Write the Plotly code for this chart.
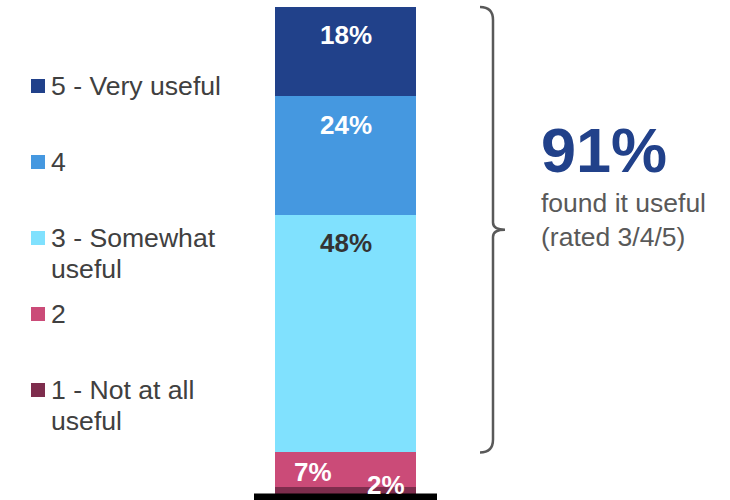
import plotly.graph_objects as go

# Survey result: share of respondents per usefulness rating
ratings = ["1 - Not at all useful", "2", "3 - Somewhat useful", "4", "5 - Very useful"]
legend_labels = ["1 - Not at all<br>useful", "2", "3 - Somewhat<br>useful", "4", "5 - Very useful"]
shares = [2, 7, 48, 24, 18]
colors = ["#7E2D4D", "#CB4B78", "#80E1FE", "#4598E0", "#21418A"]
label_colors = ["white", "white", "#333333", "white", "white"]
useful_total = "91%"
useful_note = "found it useful<br>(rated 3/4/5)"

W, H = 730, 500
FONT = "Liberation Sans, Arial, sans-serif"
category = "Rating"

fig = go.Figure()
for name, val, col in zip(ratings, shares, colors):
    fig.add_trace(go.Bar(
        x=[category], y=[val], name=name, marker=dict(color=col, line=dict(width=0)),
        showlegend=False, hoverinfo="skip",
    ))

total = sum(shares)
px_per_unit = 490 / total
y_lo = -3 / px_per_unit
y_hi = total + 7 / px_per_unit

annotations = []
shapes = []

# Value labels placed just below the top of each segment
label_offsets = [(40, 2), (-33, -20), (0, -28), (0, -29), (0, -28)]
cum = 0
for val, lc, (dx, dy) in zip(shares, label_colors, label_offsets):
    cum += val
    annotations.append(dict(
        x=category, y=cum, xref="x", yref="y", text=f"<b>{val}%</b>",
        showarrow=False, xshift=dx, yshift=dy,
        font=dict(family=FONT, size=26, color=lc),
    ))

# Baseline under the bar
shapes.append(dict(type="line", xref="paper", yref="y",
                   x0=254 / W, x1=437 / W, y0=0, y1=0,
                   line=dict(color="black", width=7)))

# Curly brace spanning ratings 3, 4 and 5
b_lo = shares[0] + shares[1]
b_hi = total
b_mid = (b_lo + b_hi) / 2
c = 13 / px_per_unit
xa, xb, xt = 480 / W, 493 / W, 505 / W
path = (f"M {xa},{b_hi} Q {xb},{b_hi} {xb},{b_hi - c} "
        f"L {xb},{b_mid + c * 0.55} Q {xb},{b_mid} {xt},{b_mid} "
        f"Q {xb},{b_mid} {xb},{b_mid - c * 0.55} "
        f"L {xb},{b_lo + c} Q {xb},{b_lo} {xa},{b_lo}")
shapes.append(dict(type="path", xref="paper", yref="y", path=path,
                   line=dict(color="#595959", width=2.5)))

annotations.append(dict(
    x=539 / W, y=1 - 150 / H, xref="paper", yref="paper", xanchor="left", yanchor="middle",
    text=f"<b>{useful_total}</b>", showarrow=False,
    font=dict(family=FONT, size=63, color="#21418A"),
))
annotations.append(dict(
    x=539 / W, y=1 - 186 / H, xref="paper", yref="paper", xanchor="left", yanchor="top",
    text=useful_note, showarrow=False, align="left",
    font=dict(family=FONT, size=26.5, color="#595959"),
))

# Hand-placed legend, top item first; wrapped labels use a tighter line pitch
legend_centers = [86, 162, 238, 314, 390]
line_pitch = 31
for lab, col, yc in zip(legend_labels[::-1], colors[::-1], legend_centers):
    shapes.append(dict(type="rect", xref="paper", yref="paper",
                       x0=31 / W, x1=45 / W, y0=1 - (yc + 7) / H, y1=1 - (yc - 7) / H,
                       fillcolor=col, line=dict(width=0)))
    for k, part in enumerate(lab.split("<br>")):
        annotations.append(dict(
            x=49 / W, y=1 - (yc + k * line_pitch) / H, xref="paper", yref="paper",
            xanchor="left", yanchor="middle", text=part, showarrow=False, align="left",
            font=dict(family=FONT, size=26.6, color="#404040"),
        ))

fig.update_layout(
    width=W, height=H, margin=dict(l=0, r=0, t=0, b=0),
    paper_bgcolor="white", plot_bgcolor="white",
    barmode="stack", bargap=0,
    xaxis=dict(domain=[275 / W, 416 / W], visible=False, fixedrange=True),
    yaxis=dict(domain=[0, 1], range=[y_lo, y_hi], visible=False, fixedrange=True),
    annotations=annotations, shapes=shapes,
)

fig.write_html("out.html")
